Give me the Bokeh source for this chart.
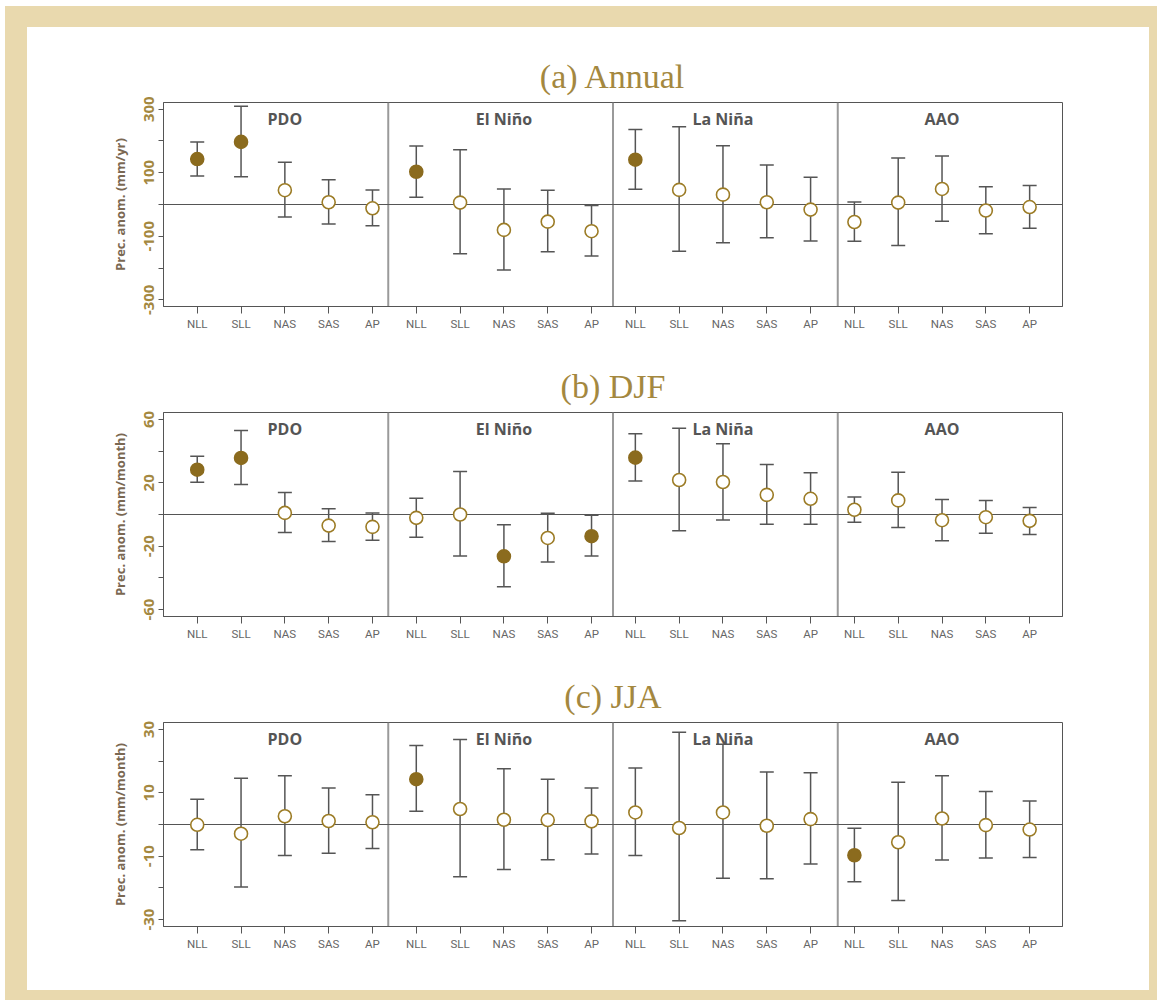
from bokeh.plotting import figure
from bokeh.models import ColumnDataSource, Range1d, FixedTicker, Whisker, TeeHead, Span
from bokeh.layouts import column
from bokeh.core.properties import value
from bokeh.embed import file_html
from bokeh.resources import INLINE

# ---------------- data ----------------
regions = ["NLL", "SLL", "NAS", "SAS", "AP"]
indices = ["PDO", "El Niño", "La Niña", "AAO"]

# (a) Annual, mm/yr
annual_mean = [143, 197, 45, 7, -12,
               103, 6, -80, -54, -84,
               141, 46, 31, 7, -16,
               -55, 6, 49, -19, -8]
annual_upper = [197, 309, 133, 78, 46,
                184, 172, 49, 45, -3,
                236, 245, 185, 124, 86,
                8, 146, 153, 56, 60]
annual_lower = [90, 87, -39, -61, -67,
                23, -155, -206, -149, -162,
                48, -147, -120, -105, -115,
                -116, -129, -53, -92, -75]
annual_sig = [1, 1, 0, 0, 0,
              1, 0, 0, 0, 0,
              1, 0, 0, 0, 0,
              0, 0, 0, 0, 0]

# (b) DJF, mm/month
djf_mean = [28.3, 35.7, 1.0, -7.0, -7.8,
            -2.1, 0.0, -26.4, -14.8, -13.7,
            35.9, 21.8, 20.5, 12.4, 9.9,
            3.0, 8.9, -3.6, -1.7, -4.0]
djf_upper = [36.7, 53.0, 13.9, 3.6, 1.0,
             10.3, 27.2, -6.5, 0.8, -0.4,
             51.0, 54.4, 44.7, 31.6, 26.4,
             11.0, 26.6, 9.5, 8.9, 4.4]
djf_lower = [20.3, 19.0, -11.4, -17.0, -16.2,
             -14.3, -26.2, -45.6, -30.0, -26.2,
             21.1, -10.3, -3.4, -6.1, -6.1,
             -4.9, -8.2, -16.5, -11.8, -12.7]
djf_sig = [1, 1, 0, 0, 0,
           0, 0, 1, 0, 1,
           1, 0, 0, 0, 0,
           0, 0, 0, 0, 0]

# (c) JJA, mm/month
jja_mean = [-0.1, -2.9, 2.6, 1.1, 0.7,
            14.3, 4.9, 1.5, 1.4, 1.0,
            3.8, -1.1, 3.8, -0.4, 1.7,
            -9.7, -5.6, 1.9, -0.2, -1.6]
jja_upper = [8.0, 14.6, 15.4, 11.5, 9.4,
             24.9, 26.8, 17.6, 14.3, 11.5,
             17.8, 29.1, 25.3, 16.6, 16.3,
             -1.2, 13.3, 15.4, 10.4, 7.4]
jja_lower = [-8.0, -19.7, -9.8, -9.1, -7.6,
             4.2, -16.5, -14.2, -11.1, -9.3,
             -9.8, -30.4, -17.0, -17.1, -12.5,
             -18.1, -24.0, -11.2, -10.6, -10.4]
jja_sig = [0, 0, 0, 0, 0,
           1, 0, 0, 0, 0,
           0, 0, 0, 0, 0,
           1, 0, 0, 0, 0]

annual_ticks = [-300, -200, -100, 0, 100, 200, 300]
annual_labeled = [-300, -100, 100, 300]
djf_ticks = [-60, -40, -20, 0, 20, 40, 60]
djf_labeled = [-60, -20, 20, 60]
jja_ticks = [-30, -20, -10, 0, 10, 20, 30]
jja_labeled = [-30, -10, 10, 30]

# ---------------- style ----------------
GOLD = "#a4883f"
FILL = "#8b6b1e"
RING = "#9c7c26"
DARK = "#555555"
SEP = "#9a9a9a"

xs = list(range(1, len(indices) * len(regions) + 1))
x_labels = [r for _ in indices for r in regions]


def make_panel(title, ylabel, mean, upper, lower, sig, yext, ticks, labeled, height, bottom):
    src = ColumnDataSource(dict(
        x=xs, y=mean, hi=upper, lo=lower,
        fill=[FILL if s else "white" for s in sig],
        line=[FILL if s else RING for s in sig],
    ))
    xr = Range1d(0.23, 20.75)
    p = figure(width=1122, height=height, output_backend="svg", toolbar_location=None,
               x_range=xr, y_range=Range1d(-yext, yext),
               min_border_left=136, min_border_right=87, min_border_top=75,
               min_border_bottom=bottom, title=title)
    p.background_fill_color = "white"
    p.border_fill_color = "white"
    p.outline_line_color = DARK
    p.outline_line_width = 1
    p.xgrid.visible = False
    p.ygrid.visible = False

    p.title.text_font = "Liberation Serif"
    p.title.text_font_size = "34px"
    p.title.text_font_style = "normal"
    p.title.text_color = GOLD
    p.title.align = "center"
    p.title.standoff = 16

    # separators between the four indices
    width = (xr.end - xr.start) / len(indices)
    for k in range(1, len(indices)):
        p.add_layout(Span(location=xr.start + k * width, dimension="height",
                          line_color=SEP, line_width=2, level="underlay"))
    p.add_layout(Span(location=0, dimension="width", line_color=DARK,
                      line_width=1, level="underlay"))

    wh = Whisker(base="x", upper="hi", lower="lo", source=src,
                 line_color=DARK, line_width=1.5, level="underlay",
                 upper_head=TeeHead(size=14, line_color=DARK, line_width=1.5),
                 lower_head=TeeHead(size=14, line_color=DARK, line_width=1.5))
    p.add_layout(wh)

    p.scatter("x", "y", source=src, size=13, fill_color="fill", line_color="line",
              line_width=1.6)

    # group labels centred over NAS
    nas = regions.index("NAS") + 1
    gx = [g * len(regions) + nas for g in range(len(indices))]
    gy = [yext - 0.0833 * 2 * yext] * len(indices)
    p.text(x=gx, y=gy, text=indices, text_align="center", text_baseline="middle",
           text_font=value("Open Sans"), text_font_style="bold",
           text_font_size="16px", text_color=DARK)

    # x axis
    xa = p.xaxis[0]
    xa.ticker = FixedTicker(ticks=xs)
    xa.major_label_overrides = {x: l for x, l in zip(xs, x_labels)}
    xa.minor_tick_line_color = None
    xa.major_tick_out = 7
    xa.major_tick_in = 0
    xa.major_tick_line_color = DARK
    xa.axis_line_color = DARK
    xa.major_label_text_font = "Roboto"
    xa.major_label_text_font_size = "11.5px"
    xa.major_label_text_color = "#666666"
    xa.major_label_standoff = 3

    # y axis
    ya = p.yaxis[0]
    ya.ticker = FixedTicker(ticks=ticks)
    ya.major_label_overrides = {t: ("" if t not in labeled else str(t)) for t in ticks}
    ya.minor_tick_line_color = None
    ya.major_tick_out = 5
    ya.major_tick_in = 0
    ya.major_tick_line_color = DARK
    ya.axis_line_color = DARK
    ya.major_label_orientation = "vertical"
    ya.major_label_text_font = "Open Sans"
    ya.major_label_text_font_style = "bold"
    ya.major_label_text_font_size = "15px"
    ya.major_label_text_color = GOLD
    ya.major_label_standoff = 4
    ya.axis_label = ylabel
    ya.axis_label_text_font = "Open Sans"
    ya.axis_label_text_font_style = "bold"
    ya.axis_label_text_font_size = "13px"
    ya.axis_label_text_color = "#7a6852"
    ya.axis_label_standoff = 13
    return p


pa = make_panel("(a) Annual", "Prec. anom. (mm/yr)", annual_mean, annual_upper, annual_lower,
                annual_sig, 321, annual_ticks, annual_labeled, 310, 31)
pb = make_panel("(b) DJF", "Prec. anom. (mm/month)", djf_mean, djf_upper, djf_lower,
                djf_sig, 64.4, djf_ticks, djf_labeled, 310, 31)
pc = make_panel("(c) JJA", "Prec. anom. (mm/month)", jja_mean, jja_upper, jja_lower,
                jja_sig, 32.2, jja_ticks, jja_labeled, 343, 64)

inner = column(pa, pb, pc, spacing=0, styles={"background-color": "white"})
outer = column(inner, styles={"background-color": "#e9d9ae",
                              "padding": "21px 8px 10px 22px",
                              "margin": "6px 0px 0px 5px"})

open("out.html", "w").write(file_html(outer, INLINE))
